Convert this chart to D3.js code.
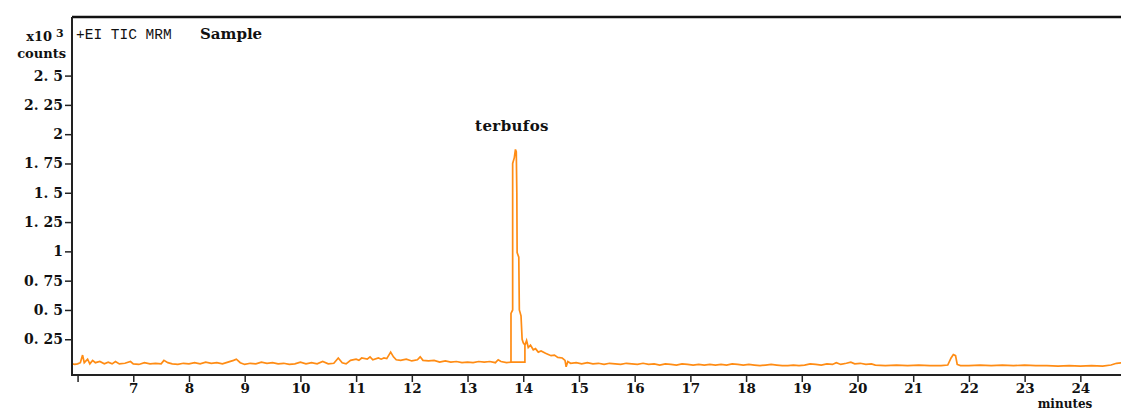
<!DOCTYPE html>
<html lang="en">
<head>
    <meta charset="UTF-8">
    <title>TIC MRM Sample - terbufos</title>
    <script src="https://d3js.org/d3.v7.min.js"></script>
    <style>
        body { margin: 0; background: #fff; }
        svg { display: block; }
        .lbl { font-family: "DejaVu Serif", serif; font-weight: bold; fill: #111; }
        .mono { font-family: "Liberation Mono", "DejaVu Sans Mono", monospace; fill: #111; }
    </style>
</head>
<body>
<div id="chart"></div>
<script>
// y ticks (x10^3 counts) and their printed labels
const yTicks = [0.25, 0.5, 0.75, 1, 1.25, 1.5, 1.75, 2, 2.25, 2.5];
const yTickLabels = ["0. 25", "0. 5", "0. 75", "1", "1. 25", "1. 5", "1. 75", "2", "2. 25", "2. 5"];

// x ticks (minutes); first tick has no label
const xTicks = [6, 7, 8, 9, 10, 11, 12, 13, 14, 15, 16, 17, 18, 19, 20, 21, 22, 23, 24];
const xTickLabels = ["", "7", "8", "9", "10", "11", "12", "13", "14", "15", "16", "17", "18", "19", "20", "21", "22", "23", "24"];

// main trace [minutes, counts x10^3]
const trace = [
    [5.90, 0.040], [5.95, 0.035], [6.00, 0.040], [6.05, 0.050], [6.09, 0.115], [6.12, 0.050],
    [6.18, 0.080], [6.22, 0.040], [6.27, 0.070], [6.32, 0.050], [6.40, 0.060], [6.48, 0.040],
    [6.55, 0.055], [6.62, 0.040], [6.68, 0.060], [6.75, 0.040], [6.85, 0.045], [6.95, 0.060],
    [7.00, 0.040], [7.10, 0.035], [7.20, 0.050], [7.30, 0.040], [7.40, 0.045], [7.50, 0.040],
    [7.55, 0.070], [7.62, 0.050], [7.70, 0.040], [7.80, 0.035], [7.90, 0.045], [8.00, 0.040],
    [8.10, 0.050], [8.20, 0.040], [8.30, 0.055], [8.40, 0.045], [8.50, 0.050], [8.60, 0.040],
    [8.70, 0.055], [8.80, 0.070], [8.85, 0.080], [8.92, 0.050], [9.00, 0.035], [9.10, 0.045],
    [9.20, 0.040], [9.30, 0.055], [9.40, 0.045], [9.50, 0.050], [9.60, 0.040], [9.70, 0.045],
    [9.80, 0.035], [9.90, 0.040], [10.00, 0.055], [10.10, 0.040], [10.20, 0.050], [10.30, 0.040],
    [10.40, 0.060], [10.50, 0.040], [10.60, 0.045], [10.68, 0.090], [10.75, 0.050], [10.82, 0.040],
    [10.90, 0.070], [11.00, 0.080], [11.05, 0.070], [11.10, 0.090], [11.20, 0.080], [11.25, 0.100],
    [11.30, 0.075], [11.40, 0.090], [11.45, 0.080], [11.50, 0.090], [11.55, 0.085], [11.62, 0.140],
    [11.67, 0.100], [11.72, 0.075], [11.80, 0.070], [11.90, 0.080], [12.00, 0.065], [12.10, 0.075],
    [12.15, 0.100], [12.20, 0.070], [12.30, 0.065], [12.40, 0.070], [12.50, 0.055], [12.60, 0.065],
    [12.70, 0.055], [12.80, 0.060], [12.90, 0.050], [13.00, 0.055], [13.10, 0.050], [13.20, 0.060],
    [13.30, 0.055], [13.40, 0.060], [13.50, 0.050], [13.55, 0.075], [13.60, 0.060], [13.70, 0.050],
    [13.78, 0.055], [14.03, 0.055], [14.03, 0.200], [14.06, 0.240], [14.09, 0.180], [14.13, 0.200],
    [14.18, 0.160], [14.22, 0.170], [14.27, 0.140], [14.32, 0.150], [14.40, 0.130], [14.45, 0.120],
    [14.50, 0.110], [14.56, 0.115], [14.62, 0.095], [14.70, 0.090], [14.75, 0.070], [14.77, 0.015],
    [14.80, 0.060], [14.85, 0.045], [14.95, 0.050], [15.05, 0.040], [15.15, 0.050], [15.25, 0.040],
    [15.35, 0.045], [15.45, 0.035], [15.55, 0.045], [15.65, 0.040], [15.75, 0.035], [15.85, 0.045],
    [15.95, 0.040], [16.05, 0.035], [16.15, 0.045], [16.25, 0.035], [16.35, 0.040], [16.45, 0.030],
    [16.55, 0.040], [16.65, 0.035], [16.75, 0.030], [16.85, 0.040], [16.95, 0.035], [17.05, 0.030],
    [17.15, 0.035], [17.25, 0.030], [17.35, 0.035], [17.45, 0.030], [17.55, 0.035], [17.65, 0.030],
    [17.75, 0.040], [17.85, 0.035], [17.95, 0.030], [18.05, 0.035], [18.15, 0.030], [18.25, 0.025],
    [18.35, 0.030], [18.45, 0.035], [18.55, 0.030], [18.65, 0.025], [18.75, 0.025], [18.85, 0.030],
    [18.95, 0.025], [19.05, 0.030], [19.15, 0.040], [19.25, 0.035], [19.35, 0.030], [19.45, 0.040],
    [19.55, 0.035], [19.62, 0.050], [19.70, 0.035], [19.80, 0.045], [19.88, 0.055], [19.95, 0.040],
    [20.05, 0.045], [20.15, 0.035], [20.25, 0.040], [20.32, 0.030], [20.50, 0.025], [20.70, 0.030],
    [20.90, 0.025], [21.10, 0.030], [21.30, 0.025], [21.50, 0.025], [21.62, 0.030], [21.68, 0.090],
    [21.72, 0.120], [21.76, 0.110], [21.79, 0.035], [21.85, 0.025], [22.00, 0.025], [22.20, 0.030],
    [22.40, 0.025], [22.60, 0.030], [22.80, 0.025], [23.00, 0.030], [23.20, 0.025], [23.40, 0.025],
    [23.60, 0.020], [23.80, 0.025], [24.00, 0.020], [24.20, 0.025], [24.40, 0.020], [24.55, 0.030],
    [24.65, 0.045], [24.75, 0.050]
];

// terbufos peak, drawn over the trace
const peak = [
    [13.78, 0.055], [13.78, 0.470], [13.81, 0.500], [13.81, 1.750], [13.84, 1.800], [13.86, 1.870],
    [13.875, 1.850], [13.885, 1.500], [13.89, 0.990], [13.92, 0.950], [13.93, 0.500], [13.96, 0.450],
    [13.98, 0.250], [14.00, 0.220], [14.03, 0.200]
];

const W = 1121, H = 412;
const plotLeft = 72, plotTop = 17, plotBottom = 375;

const svg = d3.select("#chart").append("svg")
    .attr("width", W)
    .attr("height", H);

const x = d3.scaleLinear().domain([5.9, 24.73]).range([plotLeft, W]);
const y = d3.scaleLinear().domain([-0.055, 3.0]).range([plotBottom, plotTop]);

const color = "#ff8c14";

// clip the traces to the plot area
svg.append("clipPath").attr("id", "clip")
    .append("rect").attr("x", plotLeft).attr("y", plotTop)
    .attr("width", W - plotLeft).attr("height", plotBottom - plotTop);

const line = d3.line().x(d => x(d[0])).y(d => y(d[1]));

svg.append("path")
    .datum(trace)
    .attr("clip-path", "url(#clip)")
    .attr("fill", "none")
    .attr("stroke", color)
    .attr("stroke-width", 1.7)
    .attr("d", line);

svg.append("path")
    .datum(peak)
    .attr("clip-path", "url(#clip)")
    .attr("fill", "none")
    .attr("stroke", color)
    .attr("stroke-width", 1.7)
    .attr("d", line);

// x axis
const xAxis = svg.append("g")
    .attr("transform", `translate(0,${plotBottom})`)
    .call(d3.axisBottom(x).tickValues(xTicks).tickSize(7).tickPadding(1)
        .tickFormat((d, i) => xTickLabels[i]));
xAxis.select(".domain").remove();
xAxis.selectAll("line").attr("stroke", "#222").attr("stroke-width", 1.5);
xAxis.selectAll("text").attr("class", "lbl").attr("font-size", 13.5).attr("fill", "#111");

// y axis
const yAxis = svg.append("g")
    .attr("transform", `translate(${plotLeft},0)`)
    .call(d3.axisLeft(y).tickValues(yTicks).tickSize(7).tickPadding(2)
        .tickFormat((d, i) => yTickLabels[i]));
yAxis.select(".domain").remove();
yAxis.selectAll("line").attr("stroke", "#222").attr("stroke-width", 1.5);
yAxis.selectAll("text").attr("class", "lbl").attr("font-size", 14).attr("fill", "#111");

// frame: top, left, bottom
svg.append("line").attr("x1", plotLeft).attr("x2", W).attr("y1", plotTop).attr("y2", plotTop)
    .attr("stroke", "#111").attr("stroke-width", 2.5);
svg.append("line").attr("x1", plotLeft).attr("x2", plotLeft).attr("y1", plotTop).attr("y2", plotBottom + 1)
    .attr("stroke", "#222").attr("stroke-width", 2);
svg.append("line").attr("x1", plotLeft).attr("x2", W).attr("y1", plotBottom).attr("y2", plotBottom)
    .attr("stroke", "#222").attr("stroke-width", 2);

// y unit label
svg.append("text").attr("class", "lbl").attr("font-size", 13)
    .attr("x", 52).attr("y", 41).attr("text-anchor", "end").text("x10");
svg.append("text").attr("class", "lbl").attr("font-size", 11)
    .attr("x", 56).attr("y", 37).attr("text-anchor", "start").text("3");
svg.append("text").attr("class", "lbl").attr("font-size", 13)
    .attr("x", 66).attr("y", 58).attr("text-anchor", "end").text("counts");

// header texts
svg.append("text").attr("class", "mono").attr("font-size", 14.5)
    .attr("x", 76).attr("y", 39).text("+EI TIC MRM");
svg.append("text").attr("class", "lbl").attr("font-size", 15)
    .attr("x", 200).attr("y", 39).text("Sample");

// peak annotation
svg.append("text").attr("class", "lbl").attr("font-size", 15).attr("letter-spacing", 0.4)
    .attr("x", 512).attr("y", 131).attr("text-anchor", "middle").text("terbufos");

// x unit label
svg.append("text").attr("class", "lbl").attr("font-size", 12)
    .attr("x", 1065).attr("y", 408).attr("text-anchor", "middle").text("minutes");
</script>
</body>
</html>
